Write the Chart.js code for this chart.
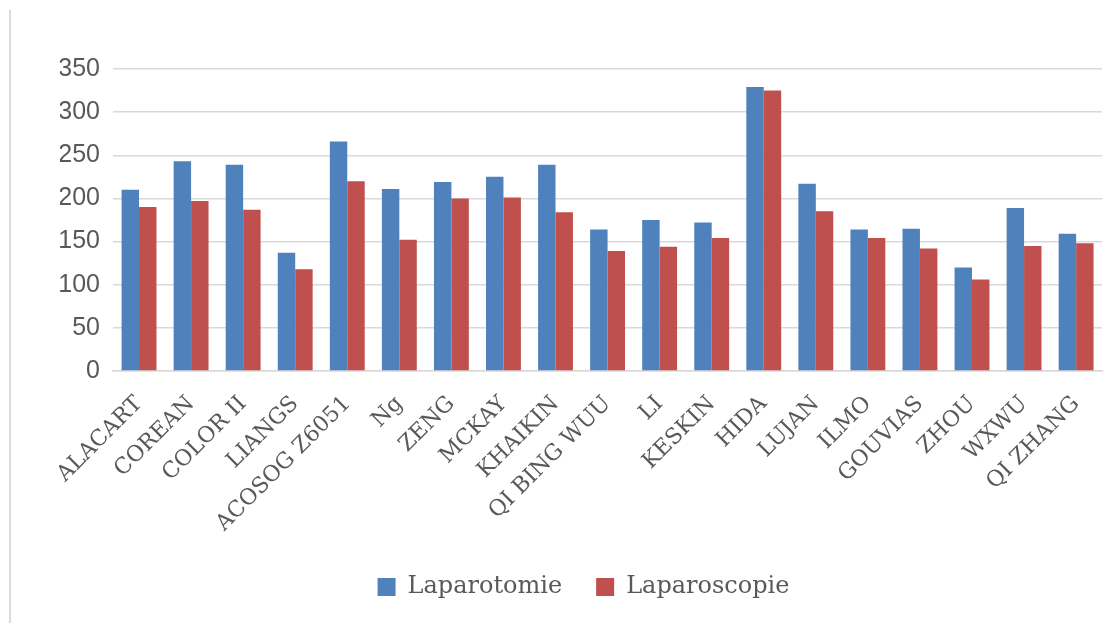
<!DOCTYPE html>
<html>
<head>
<meta charset="utf-8">
<script src="https://cdn.jsdelivr.net/npm/chart.js@4"></script>
<style>
  html, body { margin: 0; padding: 0; background: #ffffff; }
  #wrap { position: relative; width: 1115px; height: 623px; }
  #frame { position: absolute; left: 9px; top: 10px; width: 2px; height: 613px; background: #dcdcdc; }
  canvas { position: absolute; left: 0; top: 0; }
</style>
</head>
<body>
<div id="wrap">
  <div id="frame"></div>
  <canvas id="c" width="1115" height="623"></canvas>
</div>
<script>
const categories = ["ALACART", "COREAN", "COLOR II", "LIANGS", "ACOSOG Z6051", "Ng", "ZENG", "MCKAY", "KHAIKIN", "QI BING WUU", "LI", "KESKIN", "HIDA", "LUJAN", "ILMO", "GOUVIAS", "ZHOU", "WXWU", "QI ZHANG"];
const laparotomie = [210, 243, 239, 137, 266, 211, 219, 225, 239, 164, 175, 172, 329, 217, 164, 165, 120, 189, 159];
const laparoscopie = [190, 197, 187, 118, 220, 152, 200, 201, 184, 139, 144, 154, 325, 185, 154, 142, 106, 145, 148];
const seriesNames = ["Laparotomie", "Laparoscopie"];
const yTicks = [0, 50, 100, 150, 200, 250, 300, 350];

const PLOT_LEFT = 113, PLOT_BOTTOM = 371, PAD_BOTTOM = 14, PAD_LEFT = 60;

new Chart(document.getElementById('c'), {
  type: 'bar',
  data: {
    labels: categories,
    datasets: [
      { label: seriesNames[0], data: laparotomie, backgroundColor: '#4F81BD', borderWidth: 0 },
      { label: seriesNames[1], data: laparoscopie, backgroundColor: '#C0504D', borderWidth: 0 }
    ]
  },
  options: {
    responsive: false,
    animation: false,
    devicePixelRatio: 1,
    layout: { padding: { top: 69, right: 8, left: PAD_LEFT, bottom: PAD_BOTTOM } },
    datasets: { bar: { categoryPercentage: 0.67, barPercentage: 1.0 } },
    plugins: {
      legend: {
        position: 'bottom',
        labels: {
          boxWidth: 18, boxHeight: 18, padding: 34,
          color: '#595959',
          font: { family: 'DejaVu Serif', size: 24 }
        }
      },
      tooltip: { enabled: false }
    },
    scales: {
      x: {
        grid: { display: false, drawTicks: false },
        border: { display: true, color: '#d9d9d9', width: 1.5 },
        ticks: {
          color: '#595959',
          font: { family: 'DejaVu Serif', size: 22 },
          minRotation: 45, maxRotation: 45, padding: 20, autoSkip: false
        },
        afterFit: function (scale) {
          const lh = scale.chart.legend && scale.chart.legend.height ? scale.chart.legend.height : 68;
          scale.height = 623 - PAD_BOTTOM - lh - PLOT_BOTTOM;
        }
      },
      y: {
        min: 0, max: 350,
        afterBuildTicks: function (scale) { scale.ticks = yTicks.map(v => ({ value: v })); },
        grid: { color: '#d9d9d9', lineWidth: 1.5, drawTicks: false },
        border: { display: false },
        ticks: {
          color: '#595959',
          font: { family: 'Liberation Sans', size: 25 },
          padding: 13
        },
        afterFit: function (scale) { scale.width = PLOT_LEFT - PAD_LEFT; }
      }
    }
  }
});
</script>
</body>
</html>
